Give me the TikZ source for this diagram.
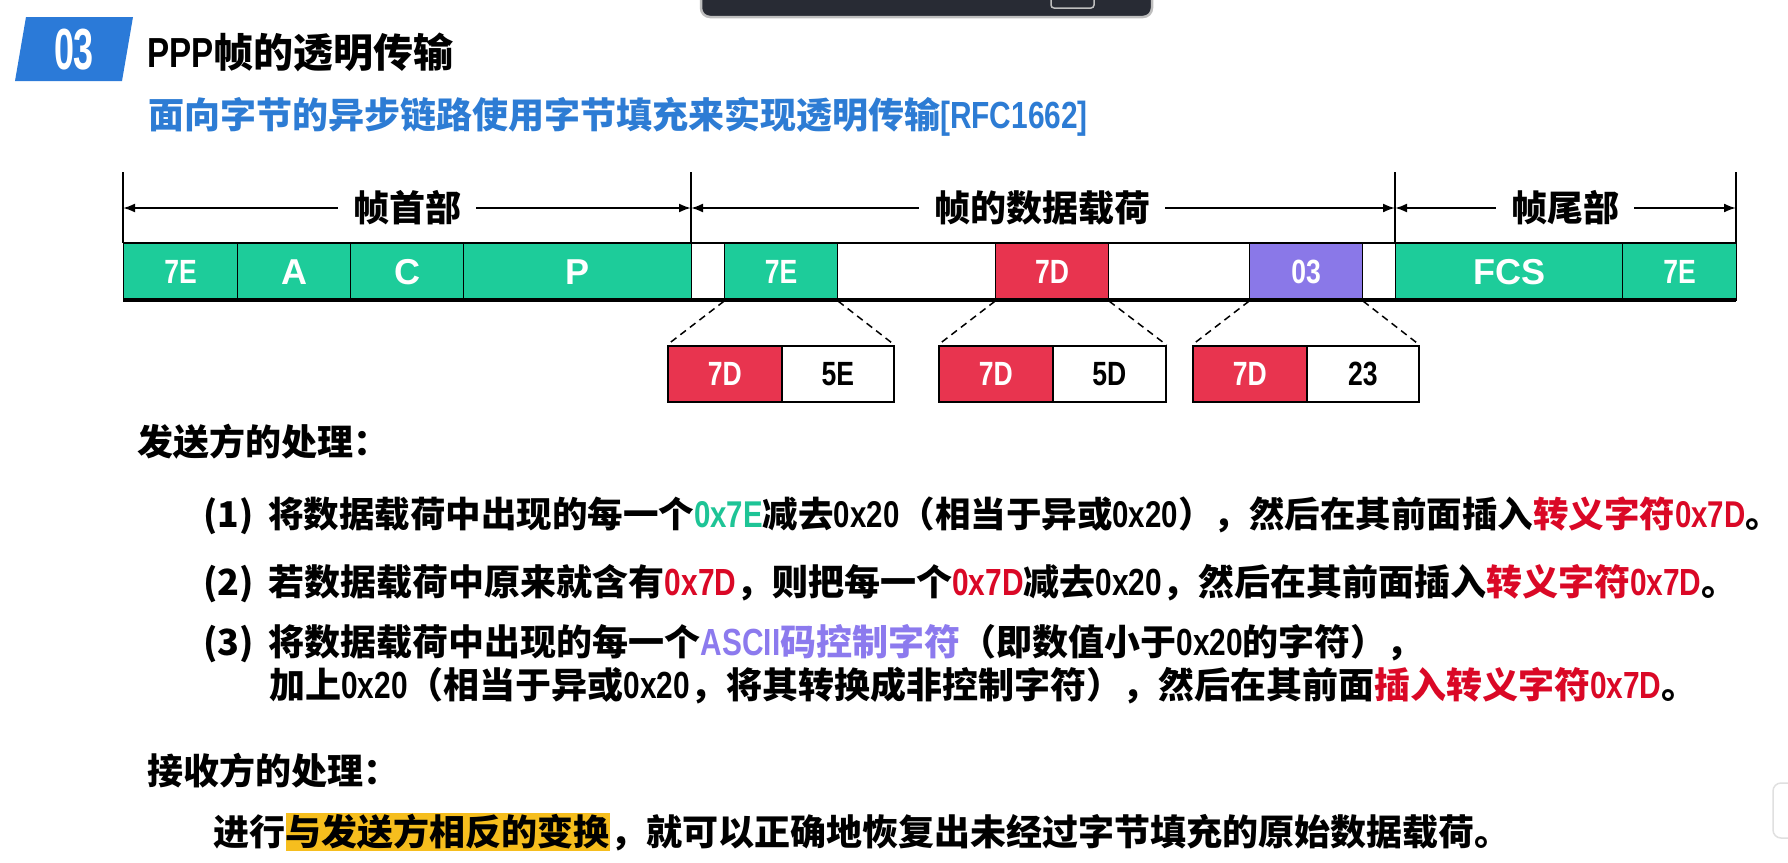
\documentclass[tikz,border=0pt]{standalone}
\usepackage{fontspec}
\setmainfont{Noto Sans CJK SC}[Kerning=Off]
\newfontfamily\narrowlat{Liberation Sans}[FakeStretch=0.79,Scale=1.05]
\newfontfamily\plainlat{Liberation Sans}
\newfontfamily\badgelat{Liberation Sans}[FakeStretch=0.62]
\usetikzlibrary{arrows.meta}
\newcommand\fsz[1]{\fontsize{#1}{#1}\selectfont}
\newcommand\hx[1]{{\narrowlat #1}}
\definecolor{fieldgreen}{RGB}{29,204,154}
\definecolor{fieldred}{RGB}{232,52,79}
\definecolor{fieldpurple}{RGB}{138,120,232}
\definecolor{headblue}{RGB}{43,122,216}
\definecolor{subblue}{RGB}{45,124,212}
\definecolor{markgreen}{RGB}{30,196,150}
\definecolor{markred}{RGB}{218,8,38}
\definecolor{markpurple}{RGB}{140,122,238}
\definecolor{markyellow}{RGB}{246,190,30}
\definecolor{playerdark}{RGB}{40,43,52}
\definecolor{playeredge}{RGB}{190,190,190}

\begin{document}
\begin{tikzpicture}[x=1pt,y=-1pt,
  txt/.style={anchor=west, inner sep=0pt, font=\bfseries\fsz{36}},
  lastpart/.style={txt, text height=30pt, text depth=4pt},
  fld/.style={draw=black, line width=1.2pt, anchor=north west, minimum height=57pt,
    inner sep=0pt, text=white, font=\bfseries\narrowlat\fsz{32}},
  wfld/.style={fld, font=\bfseries\plainlat\fsz{36}},
  subfld/.style={draw=black, line width=1.6pt, anchor=north west, minimum height=56pt,
    minimum width=114pt, inner sep=0pt, font=\bfseries\narrowlat\fsz{32}},
  dim/.style={line width=2pt, {Latex[length=12pt,width=9pt]}-{Latex[length=12pt,width=9pt]}},
  dimlabel/.style={fill=white, inner xsep=15pt, inner ysep=2pt, font=\bfseries\fsz{36}},
  tick/.style={line width=1.6pt},
  zoomline/.style={dash pattern=on 7pt off 5pt, line width=1.5pt}
]
\fill[white] (0,0) rectangle (1788,862);
\useasboundingbox (0,0) rectangle (1788,862);

% player controls overlay at the top edge
\draw[fill=playerdark, draw=playeredge, line width=2.5pt, rounded corners=9pt]
  (701,-14) -- (701,17) -- (1152,17) -- (1152,-14);
\draw[draw=playeredge, line width=1.5pt, rounded corners=3pt] (1051,-6) rectangle (1094,8);
% side tab at the right edge
\draw[draw=black!12, fill=white, line width=1.5pt, rounded corners=8pt] (1773,783) rectangle (1800,838);

% section badge and titles
\fill[headblue] (26,17) -- (133,17) -- (122,81) -- (15,81) -- cycle;
\node[text=white, inner sep=0pt, font=\bfseries\badgelat\fsz{58}] (badge) at (74,50) {03};
\node[txt, font=\bfseries\fsz{40}] (title) at (147,52) {\hx{PPP}帧的透明传输};
\node[txt, text=subblue] (subtitle) at (148,117) {面向字节的异步链路使用字节填充来实现透明传输\hx{[RFC1662]}};

% frame fields
\node[fld,  fill=fieldgreen,  minimum width=114pt] (h7e)  at (123,243)  {7E};
\node[wfld, fill=fieldgreen,  minimum width=113pt] (ha)   at (237,243)  {A};
\node[wfld, fill=fieldgreen,  minimum width=113pt] (hc)   at (350,243)  {C};
\node[wfld, fill=fieldgreen,  minimum width=228pt] (hp)   at (463,243)  {P};
\node[fld,  fill=fieldgreen,  minimum width=113pt] (p7e)  at (724,243)  {7E};
\node[fld,  fill=fieldred,    minimum width=113pt] (p7d)  at (995,243)  {7D};
\node[fld,  fill=fieldpurple, minimum width=113pt] (p03)  at (1249,243) {03};
\node[wfld, fill=fieldgreen,  minimum width=227pt] (tfcs) at (1395,243) {FCS};
\node[fld,  fill=fieldgreen,  minimum width=114pt] (t7e)  at (1622,243) {7E};

% frame outline
\coordinate (ftl) at (123,243);  \coordinate (ftr) at (1736,243);
\coordinate (fbl) at (123,300);  \coordinate (fbr) at (1736,300);
\coordinate (fm1) at (691,243);  \coordinate (fm2) at (1395,243);
\draw[line width=2pt] (ftl) -- (ftr);
\draw[line width=4pt] (fbl) -- (fbr);

% boundary ticks and dimension arrows
\coordinate (k0) at (123,172);  \coordinate (k1) at (691,172);
\coordinate (k2) at (1395,172); \coordinate (k3) at (1736,172);
\draw[tick] (k0) -- (ftl);
\draw[tick] (k1) -- (fm1);
\draw[tick] (k2) -- (fm2);
\draw[tick] (k3) -- (ftr);
\coordinate (a0) at (123,208);  \coordinate (a1) at (691,208);
\coordinate (a2) at (1395,208); \coordinate (a3) at (1736,208);
\draw[dim] (a0) -- (a1);
\draw[dim] (a1) -- (a2);
\draw[dim] (a2) -- (a3);
\node[dimlabel] (lhead) at (407,208)  {帧首部};
\node[dimlabel] (lpay)  at (1042,208) {帧的数据载荷};
\node[dimlabel] (ltail) at (1565,208) {帧尾部};

% escaped byte pairs
\node[subfld, fill=fieldred, text=white] (s1a) at (667,345)  {7D};
\node[subfld, fill=white, minimum width=112pt] (s1b) at (781,345)  {5E};
\node[subfld, fill=fieldred, text=white] (s2a) at (938,345)  {7D};
\node[subfld, fill=white, minimum width=113pt] (s2b) at (1052,345) {5D};
\node[subfld, fill=fieldred, text=white] (s3a) at (1192,345) {7D};
\node[subfld, fill=white, minimum width=112pt] (s3b) at (1306,345) {23};
\draw[zoomline] (p7e.south west) -- (s1a.north west);
\draw[zoomline] (p7e.south east) -- (s1b.north east);
\draw[zoomline] (p7d.south west) -- (s2a.north west);
\draw[zoomline] (p7d.south east) -- (s2b.north east);
\draw[zoomline] (p03.south west) -- (s3a.north west);
\draw[zoomline] (p03.south east) -- (s3b.north east);

% sender rules
\node[txt] (send) at (137,442) {发送方的处理：};
\node[txt, font=\bfseries\fsz{35.5}] (rule1) at (203,516) {(1)\hspace{15pt}将数据载荷中出现的每一个\textcolor{markgreen}{\hx{0x7E}}减去\hx{0x20}（相当于异或\hx{0x20}），然后在其前面插入\textcolor{markred}{转义字符\hx{0x7D}}。};
\node[txt] (rule2) at (203,584) {(2)\hspace{15pt}若数据载荷中原来就含有\textcolor{markred}{\hx{0x7D}}，则把每一个\textcolor{markred}{\hx{0x7D}}减去\hx{0x20}，然后在其前面插入\textcolor{markred}{转义字符\hx{0x7D}}。};
\node[txt] (rule3) at (203,644) {(3)\hspace{15pt}将数据载荷中出现的每一个\textcolor{markpurple}{\hx{ASCII}码控制字符}（即数值小于\hx{0x20}的字符），};
\node[txt] (rule3b) at (269,686) {加上\hx{0x20}（相当于异或\hx{0x20}，将其转换成非控制字符），然后在其前面\textcolor{markred}{插入转义字符\hx{0x7D}}。};

% receiver rule
\node[txt] (recv) at (147,771) {接收方的处理：};
\node[lastpart] (last1) at (213,832) {进行};
\node[lastpart, anchor=west, fill=markyellow, inner ysep=2pt] (last2) at (last1.east) {与发送方相反的变换};
\node[lastpart, anchor=west] (last3) at (last2.east) {，就可以正确地恢复出未经过字节填充的原始数据载荷。};
\end{tikzpicture}
\end{document}
